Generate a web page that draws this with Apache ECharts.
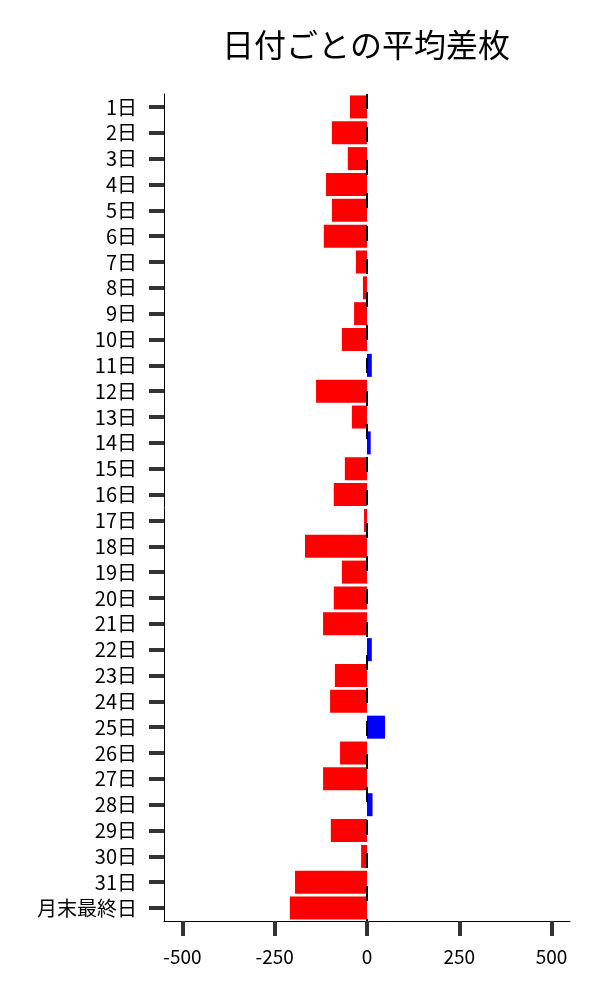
<!DOCTYPE html>
<html>
<head>
<meta charset="utf-8">
<script src="https://cdn.jsdelivr.net/npm/echarts@6/dist/echarts.min.js"></script>
<style>
  html, body { margin: 0; padding: 0; background: #fff; }
  #chart { width: 600px; height: 1000px; }
</style>
</head>
<body>
<div id="chart"></div>
<script>
// 日付カテゴリ
const days = [
  '1日', '2日', '3日', '4日', '5日', '6日', '7日', '8日', '9日', '10日',
  '11日', '12日', '13日', '14日', '15日', '16日', '17日', '18日', '19日', '20日',
  '21日', '22日', '23日', '24日', '25日', '26日', '27日', '28日', '29日', '30日',
  '31日', '月末最終日'
];
// 平均差枚
const avgDiff = [
  -46, -95, -52, -111, -95, -117, -30, -11, -35, -68,
  13, -138, -41, 10, -60, -90, -8, -168, -68, -90,
  -119, 13, -87, -100, 49, -73, -119, 15, -98, -16,
  -195, -209
];
const xTicks = [-500, -250, 0, 250, 500];

const font = '"Noto Sans CJK JP", "Noto Sans", sans-serif';

const chart = echarts.init(document.getElementById('chart'));

const option = {
  backgroundColor: '#fff',
  animation: false,
  title: {
    text: '日付ごとの平均差枚',
    left: 361,
    textAlign: 'center',
    top: 24,
    textStyle: { fontFamily: font, fontSize: 32, fontWeight: 'normal', color: '#000' }
  },
  grid: { left: 164, right: 30, top: 94, bottom: 79 },
  xAxis: {
    type: 'value',
    min: -550,
    max: 550,
    interval: 250,
    axisLine: { show: true, onZero: false, lineStyle: { color: '#000', width: 1 } },
    axisTick: { show: true, length: 15, customValues: xTicks, lineStyle: { color: '#333', width: 4 } },
    axisLabel: {
      margin: 26,
      fontFamily: font,
      fontSize: 19,
      color: '#000',
      customValues: xTicks
    },
    splitLine: { show: false }
  },
  yAxis: {
    type: 'category',
    data: days,
    inverse: true,
    axisLine: { show: true, onZero: false, lineStyle: { color: '#000', width: 1 } },
    axisTick: { show: true, length: 15, interval: 0, alignWithLabel: true, lineStyle: { color: '#333', width: 4 } },
    axisLabel: { margin: 27, interval: 0, fontFamily: font, fontSize: 20, color: '#000' }
  },
  series: [{
    type: 'bar',
    barCategoryGap: '11%',
    data: avgDiff.map(v => ({
      value: v,
      itemStyle: { color: v >= 0 ? '#0000ff' : '#ff0000' }
    })),
    markLine: {
      symbol: 'none',
      silent: true,
      label: { show: false },
      lineStyle: { color: '#000', width: 2, type: [15, 18] },
      data: [{ xAxis: 0 }]
    }
  }]
};

chart.setOption(option);
</script>
</body>
</html>
